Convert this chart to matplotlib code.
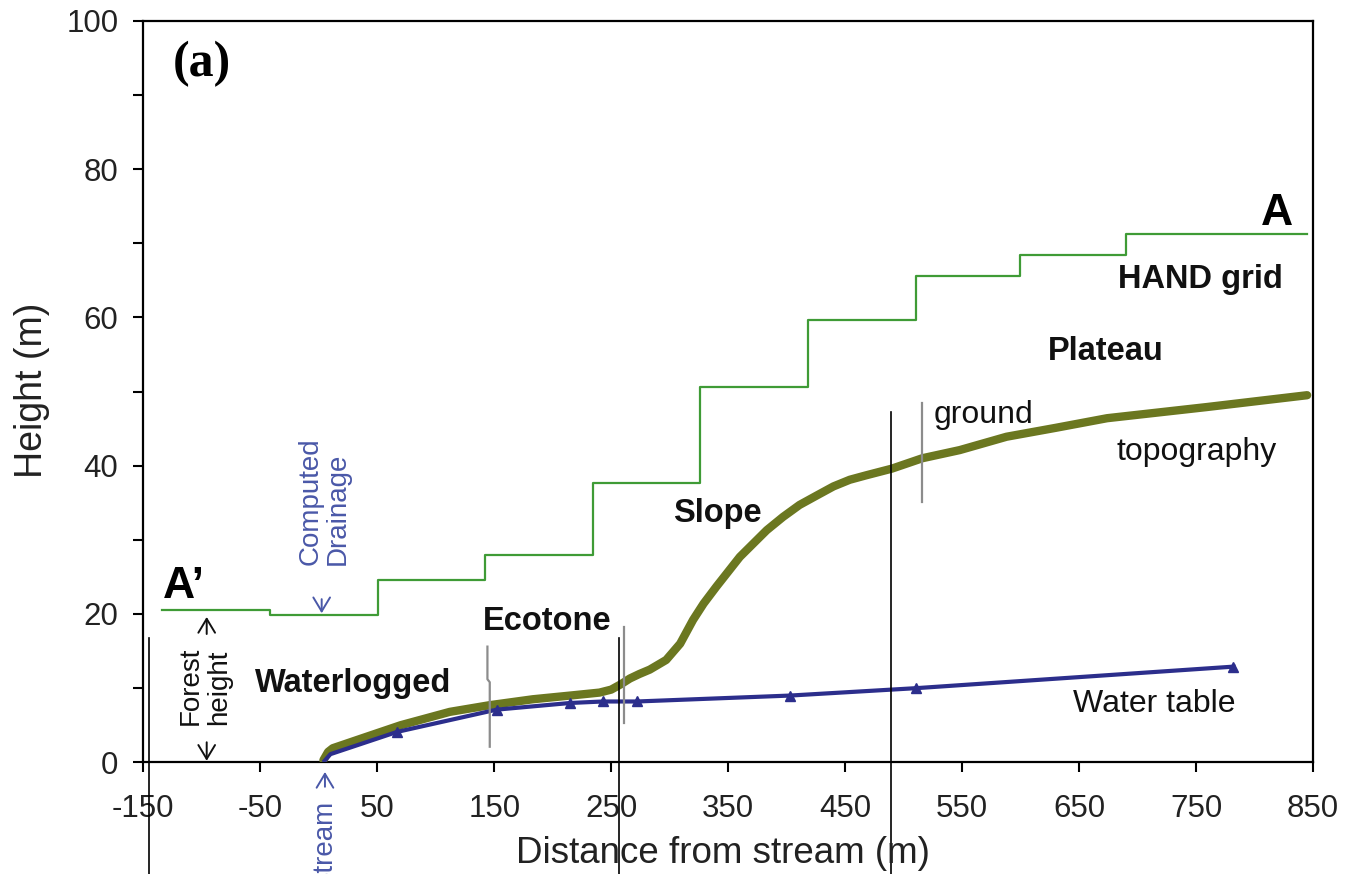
import matplotlib
matplotlib.use("Agg")
import matplotlib.pyplot as plt
import numpy as np

# ---------------- data ----------------
# HAND grid (step profile): edges and level of each step
hand_edges = [-134, -42, 51, 142, 234.5, 326, 418, 511, 599.5, 690, 845]
hand_levels = [20.5, 19.9, 24.6, 28.0, 37.6, 50.6, 59.7, 65.6, 68.4, 71.3]

# Ground topography
topo_x = [4, 8, 12, 40, 70, 112, 146, 183, 215, 240, 250, 258, 266, 274, 283, 297,
          309, 320, 329, 340, 360, 383, 397, 411, 426, 440, 454, 468, 490, 516,
          548, 588, 630, 674, 759, 845]
topo_y = [0.3, 1.4, 1.9, 3.4, 5.0, 6.8, 7.7, 8.5, 9.0, 9.4, 9.8, 10.5, 11.3, 11.9, 12.5, 13.8,
          16.0, 19.2, 21.4, 23.7, 27.7, 31.3, 33.1, 34.7, 36.0, 37.2, 38.1, 38.7, 39.6, 41.0,
          42.1, 43.9, 45.1, 46.4, 47.9, 49.5]

# Water table
wt_x = [5, 10, 67, 152, 215, 243, 272, 403, 511, 782]
wt_y = [0.2, 1.1, 4.1, 7.1, 8.0, 8.2, 8.2, 9.0, 10.0, 12.9]

# Zone boundary lines (x position, top height)
bound_x = [-145.1, 256.7, 489.0]
bound_top = [16.8, 16.8, 47.3]

# Gray transition marks
mark_x = [261.0, 516.0]
mark_lo = [5.3, 35.1]
mark_hi = [18.3, 48.4]

xticks = list(range(-150, 851, 100))
yticks_major = list(range(0, 101, 20))
yticks_minor = list(range(10, 100, 20))

# ---------------- figure ----------------
W, H = 1347, 874
fig = plt.figure(figsize=(W / 100, H / 100), dpi=100)
ax = fig.add_axes([143.3 / W, 1 - 762.3 / H, (1313 - 143.3) / W, (762.3 - 20.7) / H])

sans = ["Liberation Sans", "DejaVu Sans"]
green = "#3f9b36"
olive = "#6b7720"
navy = "#2c2e8c"
blue_txt = "#4a58a8"
gray = "#8c8c8c"

# HAND grid step line
sx, sy = [], []
for i, lv in enumerate(hand_levels):
    sx += [hand_edges[i], hand_edges[i + 1]]
    sy += [lv, lv]
ax.plot(sx, sy, color=green, lw=1.6, zorder=3)

# topography and water table
ax.plot(topo_x, topo_y, color=olive, lw=6.0, solid_capstyle="round",
        solid_joinstyle="round", zorder=4)
ax.plot(wt_x, wt_y, color=navy, lw=3.0, zorder=5)
ax.plot(wt_x[2:], wt_y[2:], color=navy, lw=0, marker="^", ms=7, zorder=5)

# gray transition marks
ax.plot([144.2, 144.2, 146.2, 146.2], [15.6, 11.2, 10.8, 2.1], color=gray, lw=1.6, zorder=6)
for mx, lo, hi in zip(mark_x, mark_lo, mark_hi):
    ax.plot([mx, mx], [lo, hi], color=gray, lw=1.6, zorder=6)

# black zone boundary lines extending below the axes
for bx, bt in zip(bound_x, bound_top):
    ax.plot([bx, bx], [bt, -16], color="black", lw=1.2, clip_on=False, zorder=7)

# axes setup
ax.set_xlim(-150, 850)
ax.set_ylim(0, 100)
ax.set_xticks(xticks)
ax.set_xticklabels([str(t) for t in xticks])
ax.set_yticks(yticks_major)
ax.set_yticks(yticks_minor, minor=True)
for sp in ax.spines.values():
    sp.set_linewidth(1.6)
ax.tick_params(axis="both", which="both", direction="out", length=7, width=1.5,
               top=False, right=False)
ax.tick_params(axis="x", pad=16, labelsize=22.5)
ax.tick_params(axis="y", pad=11, labelsize=22.5)
for lab in ax.get_xticklabels() + ax.get_yticklabels():
    lab.set_fontfamily(sans)
    lab.set_color("#222222")

fig.text(32 / W, 1 - 390.5 / H, "Height (m)", rotation=90, ha="center", va="center",
         fontsize=27, family=sans, color="#222222")
fig.text(723 / W, 1 - 863 / H, "Distance from stream (m)", ha="center", va="baseline",
         fontsize=26.5, family=sans, color="#222222")

# annotations
ax.text(-99.8, 94.2, "(a)", ha="center", va="center", fontsize=36,
        family=["Liberation Serif", "DejaVu Serif"], fontweight="bold")
ax.text(-133, 22.2, "A\u2019", ha="left", va="baseline", fontsize=32,
        family=sans, fontweight="bold")
ax.text(833.2, 72.45, "A", ha="right", va="baseline", fontsize=32,
        family=sans, fontweight="bold")
bold_labels = [("HAND grid", 683.6, 63.9), ("Plateau", 623.7, 54.25),
               ("Slope", 302.6, 32.4), ("Ecotone", 140.7, 17.8),
               ("Waterlogged", -54.5, 9.5)]
for t, x, y in bold_labels:
    ax.text(x, y, t, ha="left", va="baseline", fontsize=23.5, family=sans,
            fontweight="bold", color="#111111")
plain_labels = [("ground", 525.4, 45.7), ("topography", 682.2, 40.8),
                ("Water table", 644.8, 6.8)]
for t, x, y in plain_labels:
    ax.text(x, y, t, ha="left", va="baseline", fontsize=23, family=sans,
            color="#111111")

ax.text(-97.1, 10.3, "Forest\nheight", rotation=90, ha="center", va="center",
        multialignment="left", fontsize=20, family=sans, color="#111111",
        linespacing=1.1)
arrow_kw = dict(arrowstyle="->,head_length=0.5,head_width=0.3", lw=1.4,
                shrinkA=0, shrinkB=0, mutation_scale=20)
ax.annotate("", xy=(-95.8, 19.6), xytext=(-95.8, 17.3),
            arrowprops=dict(color="#111111", **arrow_kw), annotation_clip=False)
ax.annotate("", xy=(-95.8, 0.2), xytext=(-95.8, 2.7),
            arrowprops=dict(color="#111111", **arrow_kw), annotation_clip=False)

ax.text(4.66, 35.2, "Computed\nDrainage", rotation=90, ha="center", va="center",
        multialignment="left", fontsize=20, family=sans, color=blue_txt,
        linespacing=1.1)
ax.annotate("", xy=(2.5, 20.1), xytext=(2.5, 22.0),
            arrowprops=dict(color=blue_txt, **arrow_kw), annotation_clip=False)
ax.annotate("", xy=(5.3, -1.3), xytext=(5.3, -3.3),
            arrowprops=dict(color=blue_txt, **arrow_kw), annotation_clip=False)
ax.text(5.3, -5.0, "Stream", rotation=90, rotation_mode="anchor", ha="right",
        va="center", fontsize=20, family=sans, color=blue_txt, clip_on=False)

fig.savefig("out.png", dpi=100)
